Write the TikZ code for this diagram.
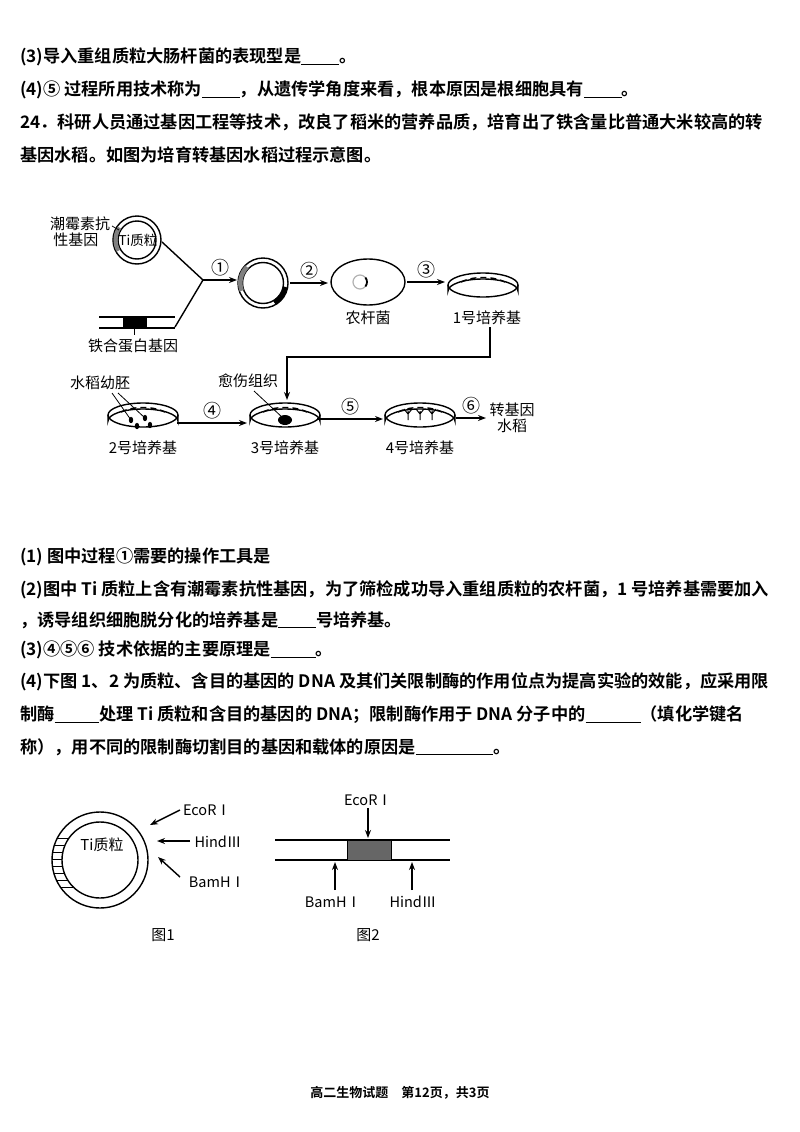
\documentclass[tikz,border=0pt]{standalone}
\usepackage{fontspec}
\setmainfont{Noto Sans CJK SC}
\newfontfamily\cjkb{Noto Sans CJK SC Bold}
\usetikzlibrary{arrows.meta}
\begin{document}
\begin{tikzpicture}[x=1pt,y=-1pt,
  txt/.style={anchor=west,inner sep=0,font=\cjkb\fontsize{17.2}{18}\selectfont},
  lab/.style={inner sep=1pt,font=\fontsize{15}{16}\selectfont,align=center},
  num/.style={inner sep=1pt,font=\fontsize{18}{18}\selectfont},
  lab2/.style={inner sep=1pt,font=\fontsize{14.5}{15}\selectfont,align=center},
  arr/.style={-{Stealth[length=8pt,width=6pt]},line width=1.4pt},
  ln/.style={line width=1.4pt}]
\useasboundingbox (0,0) rectangle (800,1132);
% texts
\node[txt] (t1) at (20,57) {(3)导入重组质粒大肠杆菌的表现型是\underline{\hspace{2.2em}}。};
\node[txt] (t2) at (20,90) {(4)⑤ 过程所用技术称为\underline{\hspace{2.2em}}，从遗传学角度来看，根本原因是根细胞具有\underline{\hspace{2.2em}}。};
\node[txt] (t3) at (20,122) {24．科研人员通过基因工程等技术，改良了稻米的营养品质，培育出了铁含量比普通大米较高的转};
\node[txt] (t4) at (20,155) {基因水稻。如图为培育转基因水稻过程示意图。};
\node[txt] (t5) at (20,557) {(1) 图中过程①需要的操作工具是};
\node[txt] (t6) at (20,590) {(2)图中 Ti 质粒上含有潮霉素抗性基因，为了筛检成功导入重组质粒的农杆菌，1 号培养基需要加入};
\node[txt] (t7) at (20,620) {，诱导组织细胞脱分化的培养基是\underline{\hspace{2.2em}}号培养基。};
\node[txt] (t8) at (20,650) {(3)④⑤⑥ 技术依据的主要原理是\underline{\hspace{2.6em}}。};
\node[txt] (t9) at (20,682) {(4)下图 1、2 为质粒、含目的基因的 DNA 及其们关限制酶的作用位点为提高实验的效能，应采用限};
\node[txt] (t10) at (20,715) {制酶\underline{\hspace{2.6em}}处理 Ti 质粒和含目的基因的 DNA；限制酶作用于 DNA 分子中的\underline{\hspace{3.2em}}（填化学键名};
\node[txt] (t11) at (20,747) {称），用不同的限制酶切割目的基因和载体的原因是\underline{\hspace{4.5em}}。};
\node[inner sep=0,font=\cjkb\fontsize{13}{14}\selectfont] (ft) at (400,1093) {高二生物试题　第12页，共3页};
% ---- top diagram
\draw[ln] (137,240) circle (24) (137,240) circle (19);
\draw[line width=4pt,gray] (137,240) ++(150:21.5) arc (150:215:21.5);
\node[lab,font=\fontsize{13.5}{14}\selectfont] (ti) at (138,240) {Ti质粒};
\node[lab,align=left,font=\fontsize{15}{16}\selectfont] (hyg) at (80,232) {潮霉素抗\\\ 性基因};
\draw[line width=0.8pt] (112,226) -- (119,230);
\coordinate (j) at (203,280);
\draw[ln] (99,317) -- (175,317) (99,328) -- (175,328);
\draw[fill=black] (123,317) rectangle (146,328);
\draw[line width=0.8pt] (134,328) -- (134,335);
\node[lab] (fe) at (133,346) {铁合蛋白基因};
\draw[ln] (162,242) -- (j) -- (175,327);
\draw[arr] (j) -- (237,280) node[midway,above=2pt,num] (n1) {①};
\draw[ln] (263,283) circle (25) (263,283) circle (20.5);
\draw[line width=4.5pt,gray] (263,283) ++(160:22.7) arc (160:225:22.7);
\draw[line width=4.5pt] (263,283) ++(10:22.7) arc (10:60:22.7);
\draw[arr] (290,283) -- (328,283) node[midway,above=2pt,num] (n2) {②};
\draw[ln] (368,282) ellipse (37 and 23);
\draw[line width=1.2pt,gray!60] (360,282) circle (7);
\draw[line width=1.8pt] (360,282) ++(-40:7) arc (-40:40:7);
\node[lab] (nong) at (368,318) {农杆菌};
\draw[arr] (407,282) -- (445,282) node[midway,above=2pt,num] (n3) {③};
\newcommand\dish[3]{%
  \draw[ln] (#1-35,#2) -- (#1-35,#2+6) arc (180:360:35 and 12) -- (#1+35,#2);
  \draw[ln] (#1,#2) ellipse (35 and 12);
  \draw[ln,dash pattern=on 6pt off 4pt] (#1-22,#2-3) .. controls (#1-10,#2-9) and (#1+10,#2-9) .. (#1+22,#2-3);
  \coordinate (#3) at (#1,#2);}
\dish{483}{285}{d1}
\node[lab] (l1) at (487,318) {1号培养基};
\draw[arr] (490,327) -- (490,357) -- (287,357) -- (287,400);
\dish{143}{415}{d2}
\dish{285}{415}{d3}
\dish{420}{415}{d4}
\node[lab] (l2) at (143,448) {2号培养基};
\node[lab] (l3) at (285,448) {3号培养基};
\node[lab] (l4) at (420,448) {4号培养基};
\fill (131,420) ellipse (2.2 and 3.2) (137,426) ellipse (2.2 and 3.2) (145,418) ellipse (2.2 and 3.2) (150,425) ellipse (2.2 and 3.2);
\node[lab] (em) at (100,383) {水稻幼胚};
\draw[line width=0.8pt] (112,393) -- (131,420) (118,393) -- (145,418);
\node[lab] (cal) at (248,381) {愈伤组织};
\fill (285,420) ellipse (7 and 5);
\draw[line width=0.8pt] (254,391) -- (283,418);
\foreach \dx in {-12,0,12}{\draw[line width=1pt] (420+\dx,411) -- (420+\dx,420) (420+\dx-4,409) -- (420+\dx,414) -- (420+\dx+4,409);}
\draw[arr] (177,423) -- (247,423) node[midway,above=2pt,num] (n4) {④};
\draw[arr] (317,419) -- (383,419) node[midway,above=2pt,num] (n5) {⑤};
\draw[arr] (456,418) -- (486,418) node[midway,above=2pt,num] (n6) {⑥};
\node[lab] (tr) at (512,418) {转基因\\水稻};
% ---- bottom diagrams
\draw[ln] (100,860) circle (48) (100,860) circle (38);
\foreach \yy in {-22,-15,-8,-1,6,13,20,27}{
  \draw[line width=0.8pt] ({100-sqrt(48*48-\yy*\yy)},860+\yy) -- ({100-sqrt(38*38-\yy*\yy)},860+\yy);}
\node[lab] (ti2) at (102,845) {Ti质粒};
\node[lab2] (e1) at (207,810) {EcoRⅠ};
\node[lab2] (h1) at (218,842) {HindⅢ};
\node[lab2] (b1) at (217,882) {BamHⅠ};
\draw[arr] (180,810) -- (150,825);
\draw[arr] (190,841) -- (157,841);
\draw[arr] (180,877) -- (158,857);
\draw[ln] (275,840) -- (450,840) (275,860) -- (450,860);
\draw[fill=gray!80!black] (347,840) rectangle (391,860);
\node[lab2] (e2) at (368,800) {EcoRⅠ};
\draw[arr] (368,808) -- (368,838);
\node[lab2] (b2) at (333,902) {BamHⅠ};
\draw[arr] (335,890) -- (335,862);
\node[lab2] (h2) at (413,902) {HindⅢ};
\draw[arr] (412,890) -- (412,862);
\node[lab] (f1) at (163,935) {图1};
\node[lab] (f2) at (368,935) {图2};
\end{tikzpicture}
\end{document}
